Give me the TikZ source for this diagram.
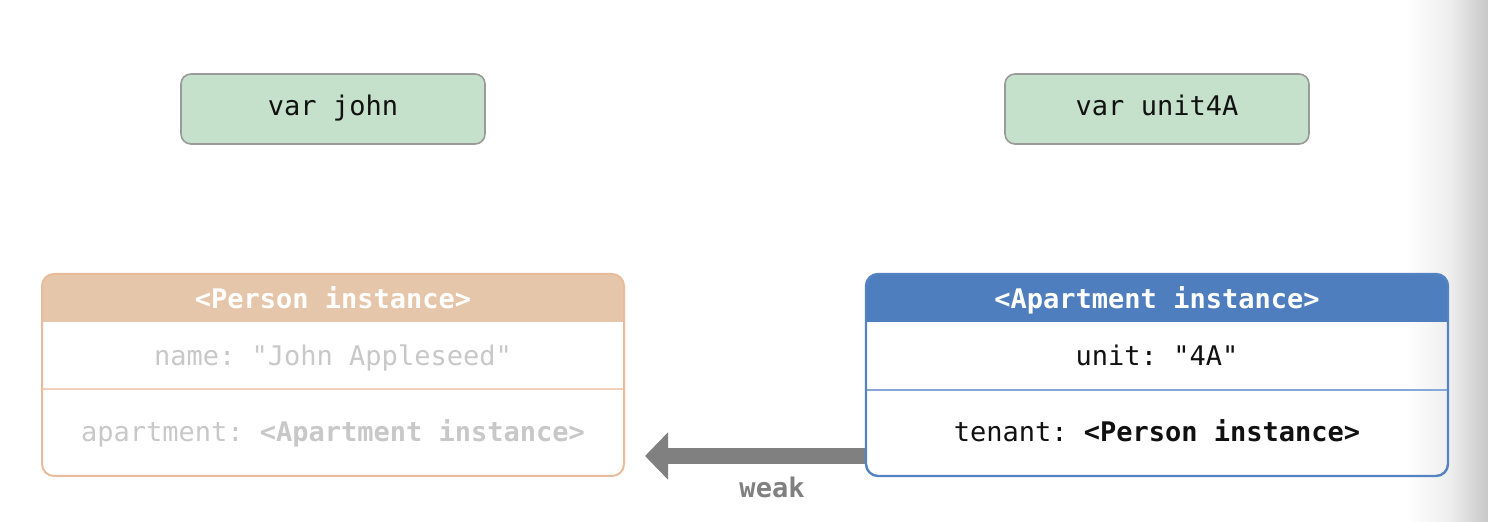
\documentclass[tikz,border=0pt]{standalone}
\usepackage{fontspec}
\setmonofont{DejaVu Sans Mono}
\usetikzlibrary{arrows.meta}
\definecolor{varfill}{HTML}{C5E1CB}
\definecolor{varline}{HTML}{9A9A9A}
\definecolor{perhead}{HTML}{E6C6AA}
\definecolor{perline}{HTML}{E8BC9A}
\definecolor{perdiv}{HTML}{F0D0B8}
\definecolor{pertext}{HTML}{C8C8C8}
\definecolor{apthead}{HTML}{4E7EBD}
\definecolor{aptline}{HTML}{5482C2}
\definecolor{aptdiv}{HTML}{86A8D6}
\definecolor{arrowc}{HTML}{808080}
\definecolor{darktext}{HTML}{111111}
\definecolor{edgeA}{HTML}{EEEEEE}
\definecolor{edgeB}{HTML}{C8C8C8}
\begin{document}
\begin{tikzpicture}[x=0.5pt,y=-0.5pt,
  txt/.style={font=\ttfamily\fontsize{13.5}{16}\selectfont, inner sep=0pt, text height=10pt, text depth=3pt},
  varbox/.style={txt, draw=varline, fill=varfill, rounded corners=5pt, line width=0.8pt,
    minimum width=152pt, minimum height=35pt, text=darktext},
  objbox/.style={minimum width=290pt, minimum height=100pt, rounded corners=6pt, line width=1pt, inner sep=0pt},
  head/.style={txt, text=white, font=\ttfamily\bfseries\fontsize{13.5}{16}\selectfont},
]
\useasboundingbox (0,0) rectangle (1488,522);
\fill[white] (0,0) rectangle (1488,522);
\shade[left color=white, right color=edgeA] (1405,0) rectangle (1450,522);
\shade[left color=edgeA, right color=edgeB] (1450,0) rectangle (1488,522);

% variables
\node[varbox] (john) at (333,109) {var john};
\node[varbox] (unit) at (1157,109) {var unit4A};

% Person instance
\node[objbox] (person) at (333,375) {};
\begin{scope}
  \clip[rounded corners=6pt] (person.north west) rectangle (person.south east);
  \fill[perhead] (person.north west) rectangle (623,322);
\end{scope}
\draw[perline, line width=1pt, rounded corners=6pt] (person.north west) rectangle (person.south east);
\draw[perdiv, line width=1pt] (43,389) -- (623,389);
\node[head] (phead) at (333,302) {<Person instance>};
\node[txt, text=pertext] (pname) at (333,359) {name: "John Appleseed"};
\node[txt, text=pertext] (papt) at (333,435) {apartment: \textbf{<Apartment instance>}};

% Apartment instance
\node[objbox] (apt) at (1157,375) {};
\coordinate (tip) at (645,456);
\draw[arrowc, line width=8pt, -{Triangle[width=23pt,length=11.5pt]}] (apt.west |- tip) -- (tip);
\begin{scope}
  \clip[rounded corners=6pt] (apt.north west) rectangle (apt.south east);
  \fill[apthead] (apt.north west) rectangle (1447,322);
\end{scope}
\draw[aptline, line width=1.2pt, rounded corners=6pt] (apt.north west) rectangle (apt.south east);
\draw[aptdiv, line width=1pt] (867,390) -- (1447,390);
\node[head] (ahead) at (1157,302) {<Apartment instance>};
\node[txt, text=darktext] (aunit) at (1157,359) {unit: "4A"};
\node[txt, text=darktext] (aten) at (1157,435) {tenant: \textbf{<Person instance>}};

\node[txt, text=arrowc, font=\ttfamily\bfseries\fontsize{13.5}{16}\selectfont] (weak) at (772,491) {weak};
\end{tikzpicture}
\end{document}
